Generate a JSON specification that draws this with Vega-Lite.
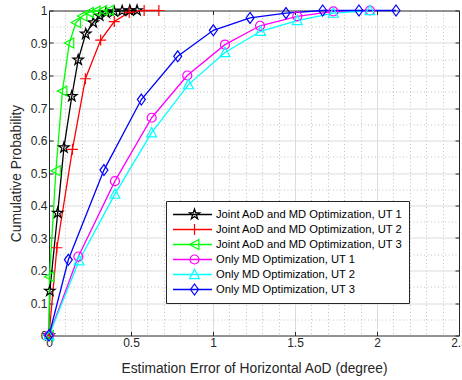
{
  "$schema": "https://vega.github.io/schema/vega-lite/v6.json",
  "width": 410,
  "height": 325,
  "autosize": "none",
  "padding": {"left": 49, "top": 10.5, "right": 3, "bottom": 44.5},
  "background": "white",
  "config": {"view": {"stroke": null}, "font": "Liberation Sans"},
  "data": {"values": [
    {"s": "Joint AoD and MD Optimization, UT 1", "x": 0, "y": 0},
    {"s": "Joint AoD and MD Optimization, UT 1", "x": 0.005, "y": 0.137},
    {"s": "Joint AoD and MD Optimization, UT 1", "x": 0.053, "y": 0.377},
    {"s": "Joint AoD and MD Optimization, UT 1", "x": 0.091, "y": 0.578},
    {"s": "Joint AoD and MD Optimization, UT 1", "x": 0.139, "y": 0.736},
    {"s": "Joint AoD and MD Optimization, UT 1", "x": 0.178, "y": 0.848},
    {"s": "Joint AoD and MD Optimization, UT 1", "x": 0.224, "y": 0.928},
    {"s": "Joint AoD and MD Optimization, UT 1", "x": 0.27, "y": 0.963},
    {"s": "Joint AoD and MD Optimization, UT 1", "x": 0.309, "y": 0.984},
    {"s": "Joint AoD and MD Optimization, UT 1", "x": 0.348, "y": 0.993},
    {"s": "Joint AoD and MD Optimization, UT 1", "x": 0.397, "y": 0.997},
    {"s": "Joint AoD and MD Optimization, UT 1", "x": 0.446, "y": 0.999},
    {"s": "Joint AoD and MD Optimization, UT 1", "x": 0.493, "y": 1.0},
    {"s": "Joint AoD and MD Optimization, UT 1", "x": 0.537, "y": 1.0},
    {"s": "Joint AoD and MD Optimization, UT 2", "x": 0, "y": 0},
    {"s": "Joint AoD and MD Optimization, UT 2", "x": 0.048, "y": 0.27},
    {"s": "Joint AoD and MD Optimization, UT 2", "x": 0.143, "y": 0.573},
    {"s": "Joint AoD and MD Optimization, UT 2", "x": 0.222, "y": 0.79},
    {"s": "Joint AoD and MD Optimization, UT 2", "x": 0.315, "y": 0.909},
    {"s": "Joint AoD and MD Optimization, UT 2", "x": 0.398, "y": 0.966},
    {"s": "Joint AoD and MD Optimization, UT 2", "x": 0.489, "y": 0.994},
    {"s": "Joint AoD and MD Optimization, UT 2", "x": 0.58, "y": 1.0},
    {"s": "Joint AoD and MD Optimization, UT 2", "x": 0.67, "y": 1.0},
    {"s": "Joint AoD and MD Optimization, UT 3", "x": 0, "y": 0},
    {"s": "Joint AoD and MD Optimization, UT 3", "x": 0.003, "y": 0.181},
    {"s": "Joint AoD and MD Optimization, UT 3", "x": 0.042, "y": 0.507},
    {"s": "Joint AoD and MD Optimization, UT 3", "x": 0.082, "y": 0.752},
    {"s": "Joint AoD and MD Optimization, UT 3", "x": 0.124, "y": 0.9},
    {"s": "Joint AoD and MD Optimization, UT 3", "x": 0.165, "y": 0.963},
    {"s": "Joint AoD and MD Optimization, UT 3", "x": 0.204, "y": 0.983},
    {"s": "Joint AoD and MD Optimization, UT 3", "x": 0.244, "y": 0.994},
    {"s": "Joint AoD and MD Optimization, UT 3", "x": 0.285, "y": 0.998},
    {"s": "Joint AoD and MD Optimization, UT 3", "x": 0.325, "y": 1.0},
    {"s": "Joint AoD and MD Optimization, UT 3", "x": 0.366, "y": 1.0},
    {"s": "Only MD Optimization, UT 1", "x": 0, "y": 0},
    {"s": "Only MD Optimization, UT 1", "x": 0.179, "y": 0.243},
    {"s": "Only MD Optimization, UT 1", "x": 0.402, "y": 0.475},
    {"s": "Only MD Optimization, UT 1", "x": 0.626, "y": 0.67},
    {"s": "Only MD Optimization, UT 1", "x": 0.843, "y": 0.8},
    {"s": "Only MD Optimization, UT 1", "x": 1.073, "y": 0.895},
    {"s": "Only MD Optimization, UT 1", "x": 1.287, "y": 0.953},
    {"s": "Only MD Optimization, UT 1", "x": 1.514, "y": 0.982},
    {"s": "Only MD Optimization, UT 1", "x": 1.734, "y": 0.997},
    {"s": "Only MD Optimization, UT 1", "x": 1.957, "y": 1.0},
    {"s": "Only MD Optimization, UT 2", "x": 0, "y": 0},
    {"s": "Only MD Optimization, UT 2", "x": 0.183, "y": 0.23},
    {"s": "Only MD Optimization, UT 2", "x": 0.402, "y": 0.435},
    {"s": "Only MD Optimization, UT 2", "x": 0.626, "y": 0.624},
    {"s": "Only MD Optimization, UT 2", "x": 0.85, "y": 0.772},
    {"s": "Only MD Optimization, UT 2", "x": 1.073, "y": 0.871},
    {"s": "Only MD Optimization, UT 2", "x": 1.29, "y": 0.936},
    {"s": "Only MD Optimization, UT 2", "x": 1.514, "y": 0.969},
    {"s": "Only MD Optimization, UT 2", "x": 1.734, "y": 0.992},
    {"s": "Only MD Optimization, UT 2", "x": 1.957, "y": 1.0},
    {"s": "Only MD Optimization, UT 3", "x": 0, "y": 0},
    {"s": "Only MD Optimization, UT 3", "x": 0.118, "y": 0.233},
    {"s": "Only MD Optimization, UT 3", "x": 0.335, "y": 0.509},
    {"s": "Only MD Optimization, UT 3", "x": 0.563, "y": 0.726},
    {"s": "Only MD Optimization, UT 3", "x": 0.785, "y": 0.859},
    {"s": "Only MD Optimization, UT 3", "x": 1.002, "y": 0.939},
    {"s": "Only MD Optimization, UT 3", "x": 1.226, "y": 0.977},
    {"s": "Only MD Optimization, UT 3", "x": 1.445, "y": 0.992},
    {"s": "Only MD Optimization, UT 3", "x": 1.669, "y": 1.0},
    {"s": "Only MD Optimization, UT 3", "x": 1.89, "y": 1.0},
    {"s": "Only MD Optimization, UT 3", "x": 2.116, "y": 1.0}
  ]},
  "resolve": {
    "axis": {"x": "independent", "y": "independent"},
    "legend": {"color": "independent", "stroke": "independent", "shape": "independent"}
  },
  "layer": [
    {
      "mark": {"type": "line", "strokeWidth": 1.3},
      "encoding": {
        "x": {
          "field": "x", "type": "quantitative",
          "scale": {"domain": [0, 2.5], "nice": false, "zero": false},
          "axis": {
            "orient": "bottom",
            "values": [0, 0.1, 0.2, 0.3, 0.4, 0.5, 0.6, 0.7, 0.8, 0.9, 1, 1.1, 1.2, 1.3, 1.4, 1.5, 1.6, 1.7, 1.8, 1.9, 2, 2.1, 2.2, 2.3, 2.4, 2.5],
            "grid": true,
            "gridColor": {"condition": {"test": "abs(datum.value*2-round(datum.value*2))<0.001", "value": "#dcdcdc"}, "value": "#c2c2c2"},
            "gridDash": {"condition": {"test": "abs(datum.value*2-round(datum.value*2))<0.001", "value": []}, "value": [1, 2.5]},
            "gridOpacity": {"condition": {"test": "datum.value<0.001 || datum.value>2.499", "value": 0}, "value": 1},
            "tickSize": -4,
            "tickColor": "#262626",
            "tickOpacity": {"condition": {"test": "abs(datum.value*2-round(datum.value*2))<0.001", "value": 1}, "value": 0},
            "domainColor": "#262626",
            "labelExpr": "abs(datum.value*2-round(datum.value*2))<0.001 ? format(datum.value, '.1~f') : ''",
            "labelFont": "Liberation Sans", "labelFontSize": 12, "labelColor": "#262626",
            "labelPadding": 6, "labelOverlap": false, "labelFlush": false, "labelBound": false,
            "title": "Estimation Error of Horizontal AoD (degree)",
            "titleFont": "Liberation Sans", "titleFontSize": 13.8, "titleFontWeight": "normal", "titleColor": "#262626",
            "titlePadding": 13
          }
        },
        "y": {
          "field": "y", "type": "quantitative",
          "scale": {"domain": [0, 1], "nice": false, "zero": false},
          "axis": {
            "orient": "left",
            "values": [0, 0.05, 0.1, 0.15, 0.2, 0.25, 0.3, 0.35, 0.4, 0.45, 0.5, 0.55, 0.6, 0.65, 0.7, 0.75, 0.8, 0.85, 0.9, 0.95, 1],
            "grid": true,
            "gridColor": {"condition": {"test": "abs(datum.value*10-round(datum.value*10))<0.001", "value": "#dcdcdc"}, "value": "#c2c2c2"},
            "gridDash": {"condition": {"test": "abs(datum.value*10-round(datum.value*10))<0.001", "value": []}, "value": [1, 2.5]},
            "gridOpacity": {"condition": {"test": "datum.value<0.001 || datum.value>0.999", "value": 0}, "value": 1},
            "tickSize": -4,
            "tickColor": "#262626",
            "tickOpacity": {"condition": {"test": "abs(datum.value*10-round(datum.value*10))<0.001", "value": 1}, "value": 0},
            "domainColor": "#262626",
            "labelExpr": "abs(datum.value*10-round(datum.value*10))<0.001 ? format(datum.value, '.1~f') : ''",
            "labelFont": "Liberation Sans", "labelFontSize": 12, "labelColor": "#262626",
            "labelPadding": 6, "labelOverlap": false, "labelFlush": false, "labelBound": false,
            "title": "Cumulative Probability",
            "titleFont": "Liberation Sans", "titleFontSize": 13.8, "titleFontWeight": "normal", "titleColor": "#262626",
            "titlePadding": 7
          }
        },
        "color": {
          "field": "s", "type": "nominal",
          "scale": {
            "domain": ["Joint AoD and MD Optimization, UT 1", "Joint AoD and MD Optimization, UT 2", "Joint AoD and MD Optimization, UT 3", "Only MD Optimization, UT 1", "Only MD Optimization, UT 2", "Only MD Optimization, UT 3"],
            "range": ["#000000", "#ff0000", "#00ff00", "#ff00ff", "#00ffff", "#0000ff"]
          },
          "legend": {
            "orient": "none", "legendX": 117, "legendY": 190.5, "title": null,
            "symbolType": "stroke", "symbolSize": 1521, "symbolStrokeWidth": 1.3,
            "labelFont": "Liberation Sans", "labelFontSize": 11.2, "labelColor": "#000000", "labelOffset": 3, "labelLimit": 400,
            "padding": 6, "rowPadding": 0, "clipHeight": 15,
            "fillColor": "#ffffff", "strokeColor": "#262626", "zindex": 0
          }
        }
      }
    },
    {
      "mark": {"type": "point", "filled": false, "strokeWidth": 1.2, "opacity": 1, "size": 121},
      "encoding": {
        "x": {
          "field": "x", "type": "quantitative",
          "scale": {"domain": [0, 2.5], "nice": false, "zero": false},
          "axis": {"orient": "top", "values": [0, 0.5, 1, 1.5, 2, 2.5], "grid": false, "labels": false, "title": null, "tickSize": -4, "tickColor": "#262626", "domainColor": "#262626"}
        },
        "y": {
          "field": "y", "type": "quantitative",
          "scale": {"domain": [0, 1], "nice": false, "zero": false},
          "axis": {"orient": "right", "values": [0, 0.1, 0.2, 0.3, 0.4, 0.5, 0.6, 0.7, 0.8, 0.9, 1], "grid": false, "labels": false, "title": null, "tickSize": -4, "tickColor": "#262626", "domainColor": "#262626"}
        },
        "stroke": {
          "field": "s", "type": "nominal",
          "scale": {
            "domain": ["Joint AoD and MD Optimization, UT 1", "Joint AoD and MD Optimization, UT 2", "Joint AoD and MD Optimization, UT 3", "Only MD Optimization, UT 1", "Only MD Optimization, UT 2", "Only MD Optimization, UT 3"],
            "range": ["#000000", "#ff0000", "#00ff00", "#ff00ff", "#00ffff", "#0000ff"]
          },
          "legend": {
            "orient": "none", "legendX": 133, "legendY": 190.5, "title": null,
            "symbolSize": 121, "symbolStrokeWidth": 1.2,
            "labelFontSize": 11.2, "labelExpr": "''",
            "padding": 6, "rowPadding": 0, "clipHeight": 15, "zindex": 1
          }
        },
        "shape": {
          "field": "s", "type": "nominal",
          "scale": {
            "domain": ["Joint AoD and MD Optimization, UT 1", "Joint AoD and MD Optimization, UT 2", "Joint AoD and MD Optimization, UT 3", "Only MD Optimization, UT 1", "Only MD Optimization, UT 2", "Only MD Optimization, UT 3"],
            "range": [
              "M0,-1L0.2245,-0.309L0.951,-0.309L0.363,0.118L0.588,0.809L0,0.382L-0.588,0.809L-0.363,0.118L-0.951,-0.309L-0.2245,-0.309Z",
              "M-1,0L1,0M0,-1L0,1",
              "M-0.9,0L0.8,-0.9L0.8,0.9Z",
              "M-0.82,0A0.82,0.82 0 1,0 0.82,0A0.82,0.82 0 1,0 -0.82,0Z",
              "M0,-0.95L0.9,0.75L-0.9,0.75Z",
              "M0,-1L0.72,0L0,1L-0.72,0Z"
            ]
          },
          "legend": {
            "orient": "none", "legendX": 133, "legendY": 190.5, "title": null,
            "symbolSize": 121, "symbolStrokeWidth": 1.2,
            "labelFontSize": 11.2, "labelExpr": "''",
            "padding": 6, "rowPadding": 0, "clipHeight": 15, "zindex": 1
          }
        }
      }
    }
  ]
}
